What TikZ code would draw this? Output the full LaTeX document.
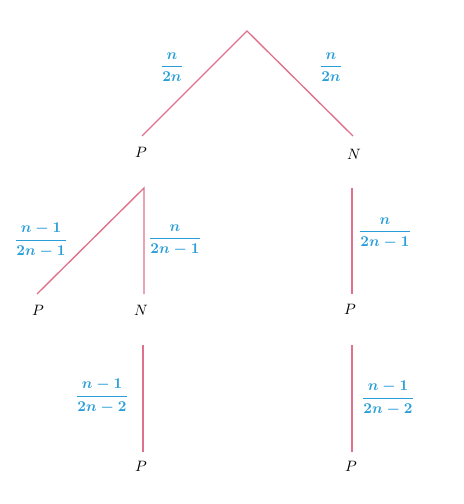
\documentclass[tikz,border=0pt]{standalone}
\usepackage{amsmath,bm}
\definecolor{edgec}{HTML}{E0718C}
\definecolor{labc}{HTML}{2A9ED8}
\begin{document}
\begin{tikzpicture}[x=0.6667pt,y=-0.6667pt,
  edge/.style={draw=edgec,line width=0.9pt},
  lab/.style={text=labc,inner sep=0pt},
  leaf/.style={inner sep=0pt}]
\useasboundingbox (0,0) rectangle (464,504);
% level 1
\coordinate (r) at (247,31);
\coordinate (a1) at (142,136);
\coordinate (b1) at (353,136);
\node[leaf] (P1) at (141,152) {$P$};
\node[leaf] (N1) at (354,154) {$N$};
\draw[edge] (a1) -- (r) -- (b1);
\node[lab] (l1) at (172,67) {$\bm{\dfrac{n}{2n}}$};
\node[lab] (l2) at (331,67) {$\bm{\dfrac{n}{2n}}$};
% level 2 left
\coordinate (r2) at (144,188);
\coordinate (a2) at (37,294);
\coordinate (b2) at (144,294);
\node[leaf] (P2) at (38,310) {$P$};
\node[leaf] (N2) at (141,310) {$N$};
\draw[edge] (a2) -- (r2) -- (b2);
\node[lab] (l3) at (41,240) {$\bm{\dfrac{n-1}{2n-1}}$};
\node[lab] (l4) at (175,240) {$\bm{\dfrac{n}{2n-1}}$};
% level 2 right
\coordinate (r3) at (352,188);
\coordinate (b3) at (352,294);
\node[leaf] (P3) at (350,309) {$P$};
\draw[edge] (r3) -- (b3);
\node[lab] (l5) at (385,233) {$\bm{\dfrac{n}{2n-1}}$};
% level 3
\coordinate (r4) at (143,345);
\coordinate (b4) at (143,452);
\node[leaf] (P4) at (141,466) {$P$};
\draw[edge] (r4) -- (b4);
\node[lab] (l6) at (102,396) {$\bm{\dfrac{n-1}{2n-2}}$};
\coordinate (r5) at (352,345);
\coordinate (b5) at (352,452);
\node[leaf] (P5) at (351,466) {$P$};
\draw[edge] (r5) -- (b5);
\node[lab] (l7) at (388,398) {$\bm{\dfrac{n-1}{2n-2}}$};
\end{tikzpicture}
\end{document}
